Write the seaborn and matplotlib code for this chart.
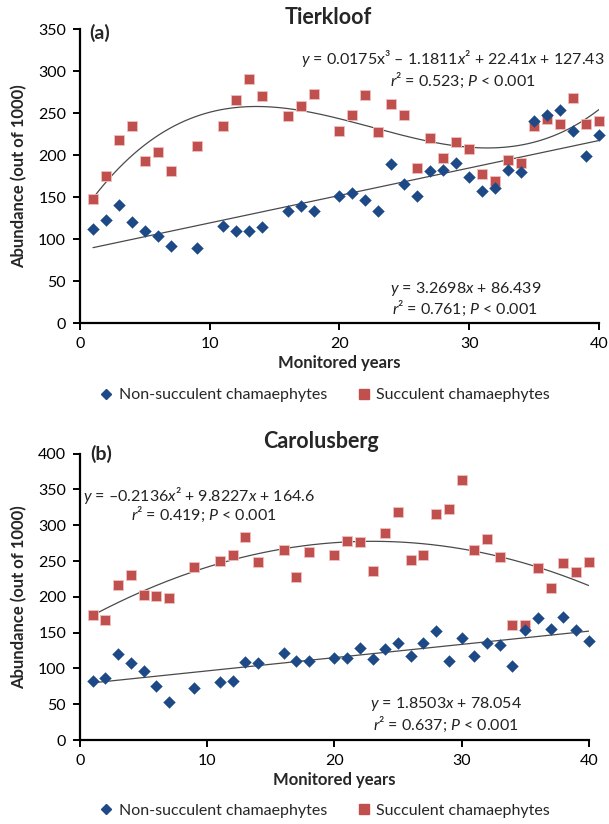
import numpy as np
import pandas as pd
import matplotlib
matplotlib.use("Agg")
import matplotlib.pyplot as plt
import seaborn as sns
from matplotlib.lines import Line2D

sns.set_style("ticks")
plt.rcParams['font.family'] = ['Lato', 'DejaVu Sans']
plt.rcParams['mathtext.fontset'] = 'custom'
plt.rcParams['mathtext.rm'] = 'Lato'
plt.rcParams['mathtext.it'] = 'Lato:italic'
plt.rcParams['mathtext.bf'] = 'Lato:bold'

# ---------------- data ----------------
years = [1, 2, 3, 4, 5, 6, 7, 9, 11, 12, 13, 14, 16, 17, 18, 20, 21, 22, 23, 24,
         25, 26, 27, 28, 29, 30, 31, 32, 33, 34, 35, 36, 37, 38, 39, 40]

tier_nonsucc = [112, 123, 140, 120, 110, 104, 92, 89, 115, 109, 109, 114, 133, 139, 133, 151,
                155, 147, 133, 189, 166, 151, 181, 182, 191, 174, 157, 161, 182, 180,
                240, 248, 254, 228, 199, 224]
tier_succ = [148, 175, 218, 234, 193, 203, 181, 211, 234, 265, 290, 270, 246, 258, 273, 228,
             248, 271, 227, 261, 248, 185, 220, 196, 215, 207, 177, 169, 194, 191,
             235, 243, 237, 268, 237, 241]

caro_nonsucc = [83, 87, 120, 108, 96, 76, 53, 72, 81, 83, 109, 107, 122, 110, 110, 114,
                114, 129, 113, 127, 136, 117, 136, 152, 111, 142, 117, 135, 133, 103,
                154, 170, 155, 172, 153, 139]
caro_succ = [175, 167, 217, 231, 203, 201, 199, 242, 250, 259, 284, 248, 266, 228, 263, 258,
             278, 277, 236, 289, 319, 252, 259, 315, 322, 363, 266, 281, 256, 161,
             161, 240, 212, 247, 235, 248]

# fitted trend-line coefficients (highest power first), as printed on the chart
tier_lin_coef = [3.2698, 86.439]
tier_cub_coef = [0.0175, -1.1811, 22.41, 127.43]
caro_lin_coef = [1.8503, 78.054]
caro_quad_coef = [-0.2136, 9.8227, 164.6]

series_names = ["Non-succulent chamaephytes", "Succulent chamaephytes"]
x_ticks = [0, 10, 20, 30, 40]

BLUE = "#1d4a86"
RED = "#c0504d"
LINE = "#4a4a4a"

fig = plt.figure(figsize=(6.09, 8.24), dpi=100)
ax1 = fig.add_axes([0.1314, 0.608, 0.852, 0.3568])
ax2 = fig.add_axes([0.1314, 0.1019, 0.8353, 0.3476])


def draw(ax, nonsucc, succ, lin_coef, poly_coef, ymax, ytick_step):
    df = pd.DataFrame({
        "year": years * 2,
        "value": nonsucc + succ,
        "series": [series_names[0]] * len(years) + [series_names[1]] * len(years),
    })
    xs = np.linspace(1, 40, 200)
    fit = pd.DataFrame({"x": np.concatenate([xs, xs]),
                        "y": np.concatenate([np.polyval(lin_coef, xs), np.polyval(poly_coef, xs)]),
                        "k": ["lin"] * len(xs) + ["poly"] * len(xs)})
    sns.lineplot(data=fit, x="x", y="y", units="k", estimator=None, color=LINE,
                 linewidth=0.9, ax=ax, legend=False, zorder=1)
    sns.scatterplot(data=df[df.series == series_names[1]], x="year", y="value", marker="s",
                    color=RED, s=58, edgecolor="#f0c0bf", linewidth=0.6, ax=ax,
                    legend=False, zorder=3, clip_on=False)
    sns.scatterplot(data=df[df.series == series_names[0]], x="year", y="value", marker="D",
                    color=BLUE, s=36, edgecolor=BLUE, linewidth=0.3, ax=ax,
                    legend=False, zorder=4, clip_on=False)
    ax.set_xlim(0, 40)
    ax.set_ylim(0, ymax)
    ax.set_xticks(x_ticks)
    ax.set_yticks(np.arange(0, ymax + 1, ytick_step))
    sns.despine(ax=ax)
    for sp in ["left", "bottom"]:
        ax.spines[sp].set_linewidth(1.6)
        ax.spines[sp].set_color("black")
    ax.tick_params(axis="both", direction="out", length=5, width=1.4, labelsize=11.5,
                   colors="black", pad=5)
    ax.set_xlabel("Monitored years", fontsize=12, fontweight="bold", labelpad=3)
    ax.set_ylabel("Abundance (out of 1000)", fontsize=12, fontweight="bold", labelpad=8)


draw(ax1, tier_nonsucc, tier_succ, tier_lin_coef, tier_cub_coef, 350, 50)
draw(ax2, caro_nonsucc, caro_succ, caro_lin_coef, caro_quad_coef, 400, 50)

# equations
eq_kw = dict(ha="center", va="center", fontsize=11.5, color="#222222")
ax1.text(28.7, 315, r"$y$ = 0.0175x³ – 1.1811$x$² + 22.41$x$ + 127.43", **eq_kw)
ax1.text(29.5, 289, r"$r$² = 0.523; $P$ < 0.001", **eq_kw)
ax1.text(29.7, 40, r"$y$ = 3.2698$x$ + 86.439", **eq_kw)
ax1.text(29.7, 17.5, r"$r$² = 0.761; $P$ < 0.001", **eq_kw)

ax2.text(9.4, 341, r"$y$ = –0.2136$x$² + 9.8227$x$ + 164.6", **eq_kw)
ax2.text(9.7, 315, r"$r$² = 0.419; $P$ < 0.001", **eq_kw)
ax2.text(28.8, 50, r"$y$ = 1.8503$x$ + 78.054", **eq_kw)
ax2.text(28.8, 22, r"$r$² = 0.637; $P$ < 0.001", **eq_kw)

# titles and panel letters
fig.text(328 / 609, 1 - 18 / 824, "Tierkloof", ha="center", va="center",
         fontsize=15.5, fontweight="bold")
fig.text(100 / 609, 1 - 33 / 824, "(a)", ha="center", va="center",
         fontsize=14, fontweight="bold")
fig.text(321 / 609, 1 - 441 / 824, "Carolusberg", ha="center", va="center",
         fontsize=15.5, fontweight="bold")
fig.text(101 / 609, 1 - 454 / 824, "(b)", ha="center", va="center",
         fontsize=14, fontweight="bold")

# legends
handles = [Line2D([], [], marker="D", linestyle="none", color=BLUE, markersize=5),
           Line2D([], [], marker="s", linestyle="none", color=RED, markersize=7)]
for ypix in (395, 811):
    fig.legend(handles, series_names, loc="center", bbox_to_anchor=(324 / 609, 1 - ypix / 824),
               ncol=2, frameon=False, fontsize=11.5, handletextpad=0.3, columnspacing=1.8,
               handlelength=1.0)

fig.savefig("out.png", dpi=100)
